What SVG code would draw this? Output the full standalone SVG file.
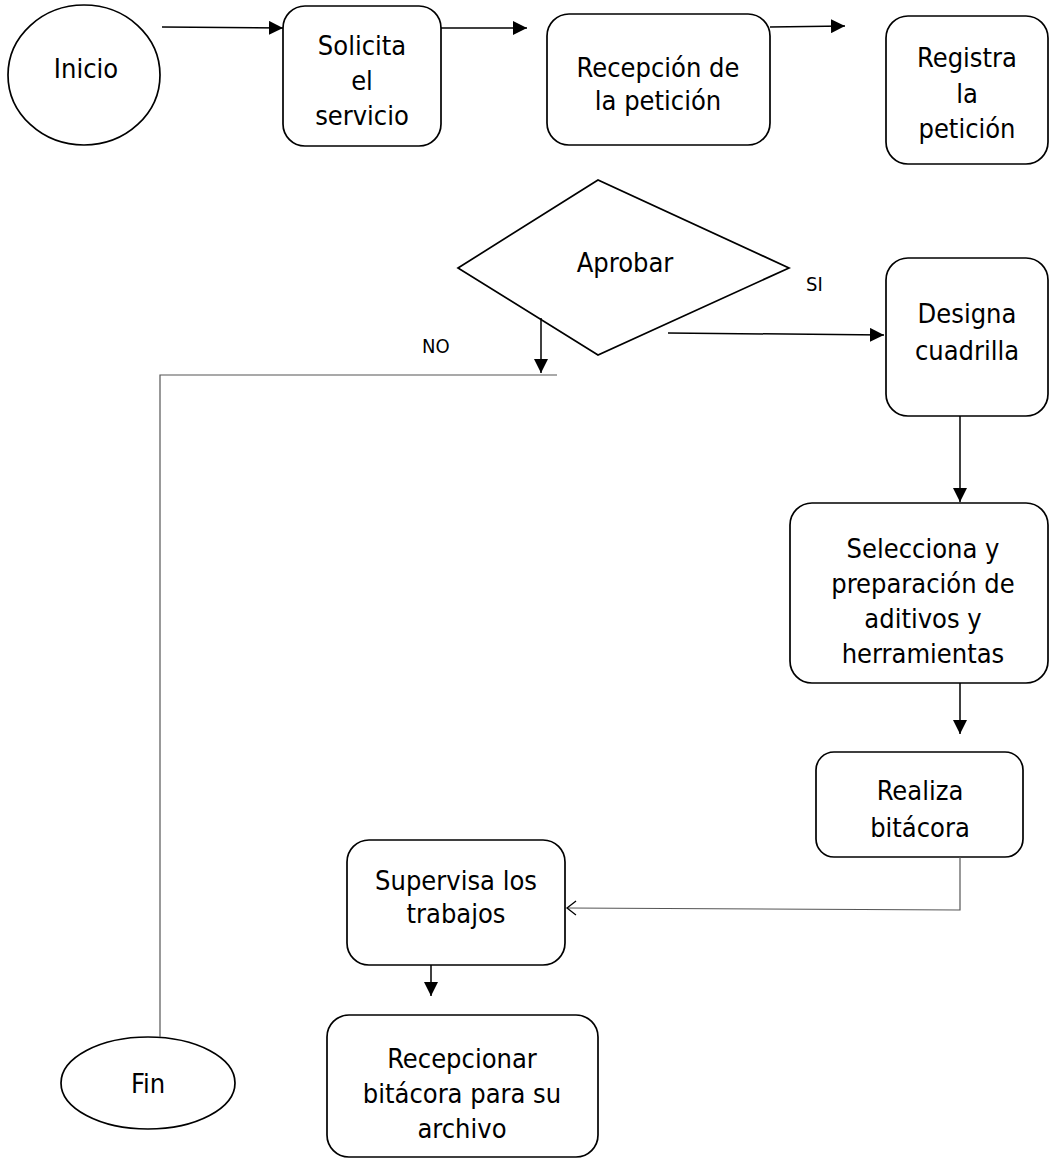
<svg xmlns="http://www.w3.org/2000/svg" width="1050" height="1160" viewBox="0 0 1050 1160">
<defs>
<style>
.shape{fill:#fff;stroke:#000;stroke-width:1.7}
.t{font-family:"DejaVu Sans Condensed","DejaVu Sans",sans-serif;font-size:27px;fill:#000;text-anchor:middle}
.lbl{font-family:"DejaVu Sans Condensed","DejaVu Sans",sans-serif;font-size:20px;fill:#000}
.c{fill:none;stroke:#000;stroke-width:1.5}
.thin{fill:none;stroke:#555;stroke-width:1.2}
</style>
<marker id="arr" markerUnits="userSpaceOnUse" markerWidth="16" markerHeight="14" refX="14" refY="7" orient="auto">
<path d="M0,0 L14,7 L0,14 Z" fill="#000"/>
</marker>
<marker id="open" markerUnits="userSpaceOnUse" markerWidth="12" markerHeight="16" refX="10" refY="8" orient="auto">
<path d="M1,1 L10,8 L1,15" fill="none" stroke="#000" stroke-width="1.3"/>
</marker>
</defs>
<rect width="1050" height="1160" fill="#fff"/>
<g id="inicio"><ellipse class="shape" cx="84" cy="75" rx="76" ry="70"/><text class="t" x="86" y="78">Inicio</text></g>
<g id="solicita"><rect class="shape" x="283" y="6" width="158" height="140" rx="22"/>
<text class="t" x="362" y="55">Solicita</text><text class="t" x="362" y="90">el</text><text class="t" x="362" y="125">servicio</text></g>
<g id="recepcion"><rect class="shape" x="547" y="14" width="223" height="131" rx="22"/>
<text class="t" x="658" y="77">Recepción de</text><text class="t" x="658" y="110">la petición</text></g>
<g id="registra"><rect class="shape" x="886" y="16" width="162" height="148" rx="22"/>
<text class="t" x="967" y="67">Registra</text><text class="t" x="967" y="103">la</text><text class="t" x="967" y="138">petición</text></g>
<g id="aprobar"><polygon class="shape" points="458,268 598,180 789,268 598,355"/>
<text class="t" x="625" y="272">Aprobar</text></g>
<text class="lbl" x="806" y="291">SI</text>
<text class="lbl" x="422" y="353">NO</text>
<g id="designa"><rect class="shape" x="886" y="258" width="162" height="158" rx="22"/>
<text class="t" x="967" y="323">Designa</text><text class="t" x="967" y="360">cuadrilla</text></g>
<g id="selecciona"><rect class="shape" x="790" y="503" width="258" height="180" rx="22"/>
<text class="t" x="923" y="558">Selecciona y</text><text class="t" x="923" y="593">preparación de</text><text class="t" x="923" y="628">aditivos y</text><text class="t" x="923" y="663">herramientas</text></g>
<g id="realiza"><rect class="shape" x="816" y="752" width="207" height="105" rx="18"/>
<text class="t" x="920" y="800">Realiza</text><text class="t" x="920" y="837">bitácora</text></g>
<g id="supervisa"><rect class="shape" x="347" y="840" width="218" height="125" rx="22"/>
<text class="t" x="456" y="890">Supervisa los</text><text class="t" x="456" y="923">trabajos</text></g>
<g id="recepcionar"><rect class="shape" x="327" y="1015" width="271" height="142" rx="22"/>
<text class="t" x="462" y="1068">Recepcionar</text><text class="t" x="462" y="1103">bitácora para su</text><text class="t" x="462" y="1138">archivo</text></g>
<g id="fin"><ellipse class="shape" cx="148" cy="1083" rx="87" ry="46"/><text class="t" x="148" y="1093">Fin</text></g>
<g id="connectors">
<line class="c" x1="162" y1="27" x2="283" y2="28" marker-end="url(#arr)"/>
<line class="c" x1="441" y1="28" x2="527" y2="28" marker-end="url(#arr)"/>
<line class="c" x1="770" y1="27" x2="845" y2="26" marker-end="url(#arr)"/>
<line class="c" x1="541" y1="318" x2="541" y2="373" marker-end="url(#arr)"/>
<polyline class="thin" points="557,375 160,375 160,1037"/>
<line class="c" x1="668" y1="333" x2="884" y2="335" marker-end="url(#arr)"/>
<line class="c" x1="960" y1="416" x2="960" y2="502" marker-end="url(#arr)"/>
<line class="c" x1="960" y1="683" x2="960" y2="734" marker-end="url(#arr)"/>
<polyline class="thin" points="960,857 960,910 567,908" marker-end="url(#open)"/>
<line class="c" x1="431" y1="965" x2="431" y2="996" marker-end="url(#arr)"/>
</g>
</svg>
